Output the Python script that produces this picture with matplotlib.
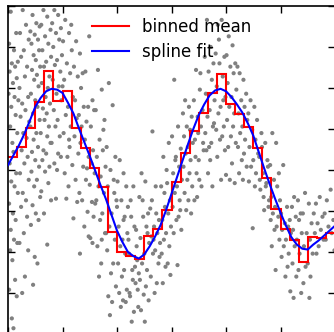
import numpy as np
import matplotlib
matplotlib.use('Agg')
import matplotlib.pyplot as plt
from matplotlib.lines import Line2D
from matplotlib.ticker import MultipleLocator

# noisy samples (strip by strip)
scatter_x = [
    0.05, 0.15, 0.02, 0.11, 0.18, 0.07, 0.13, 0.03, 0.16, 0.09, 0.01, 0.12, 0.19, 0.06, 0.14, 0.04, 0.17, 0.08, 0.10,
    0.03, 0.15, 0.06, 0.12, 0.18, 0.02, 0.09, 0.14, 0.05, 0.11, 0.17, 0.04, 0.08, 0.13, 0.02, 0.16, 0.07, 0.10,
    0.27, 0.33, 0.22, 0.38, 0.29, 0.24, 0.35, 0.31, 0.21, 0.37, 0.26, 0.32, 0.23, 0.39, 0.28, 0.34, 0.25, 0.36, 0.30,
    0.22, 0.38, 0.27, 0.33, 0.24, 0.35, 0.29, 0.21, 0.37, 0.31, 0.26,
    0.45, 0.52, 0.58, 0.41, 0.49, 0.55, 0.43, 0.57, 0.47, 0.51, 0.59, 0.44, 0.53, 0.48, 0.56, 0.42, 0.50, 0.54, 0.46,
    0.58, 0.41, 0.52, 0.47, 0.55, 0.44, 0.50, 0.57, 0.43, 0.53, 0.48, 0.59, 0.45, 0.51, 0.56, 0.42, 0.49, 0.54, 0.46,
    0.65, 0.72, 0.61, 0.78, 0.68, 0.74, 0.63, 0.79, 0.70, 0.66, 0.76, 0.62, 0.73, 0.69, 0.77, 0.64, 0.71, 0.67, 0.75,
    0.60, 0.72, 0.78, 0.65, 0.70, 0.63, 0.76, 0.68, 0.74, 0.61, 0.79, 0.66, 0.72,
    0.85, 0.92, 0.81, 0.97, 0.88, 0.94, 0.83, 0.99, 0.90, 0.86, 0.96, 0.82, 0.93, 0.89, 0.98, 0.84, 0.91, 0.87, 0.95,
    0.80, 0.92, 0.97, 0.85, 0.90, 0.88,
    1.05, 1.12, 1.01, 1.17, 1.08, 1.14, 1.03, 1.19, 1.10, 1.06, 1.15, 1.02, 1.13, 1.09, 1.18, 1.04, 1.11, 1.07, 1.16,
    1.00, 1.12,
    1.25, 1.32, 1.21, 1.37, 1.28, 1.34, 1.23, 1.39, 1.30, 1.26, 1.35, 1.22, 1.33, 1.29, 1.38, 1.24, 1.31, 1.27, 1.36,
    1.20, 1.32,
    1.49, 1.42, 1.55, 1.47, 1.58, 1.44, 1.52, 1.41, 1.56, 1.48, 1.53, 1.45, 1.59, 1.43, 1.50, 1.54, 1.46, 1.57, 1.40,
    1.51, 1.48, 1.55,
    1.65, 1.72, 1.61, 1.77, 1.68, 1.74, 1.63, 1.79, 1.70, 1.66, 1.76, 1.62, 1.73, 1.69, 1.78, 1.64, 1.71, 1.67, 1.75,
    1.60, 1.72,
    1.85, 1.92, 1.81, 1.97, 1.88, 1.94, 1.83, 1.99, 1.90, 1.86, 1.96, 1.82, 1.93, 1.89, 1.98, 1.84, 1.91, 1.87, 1.95,
    1.80,
    2.05, 2.12, 2.01, 2.17, 2.08, 2.14, 2.03, 2.19, 2.10, 2.06, 2.15, 2.02, 2.13, 2.09, 2.18, 2.04, 2.11, 2.07, 2.16,
    2.00, 2.12,
    2.25, 2.32, 2.21, 2.37, 2.28, 2.34, 2.23, 2.39, 2.30, 2.26, 2.35, 2.22, 2.33, 2.29, 2.38, 2.24, 2.31, 2.27, 2.36,
    2.20,
    2.45, 2.52, 2.41, 2.57, 2.48, 2.54, 2.43, 2.59, 2.50, 2.46, 2.55, 2.42, 2.53, 2.49, 2.58, 2.44, 2.51, 2.47, 2.56,
    2.40,
    2.65, 2.72, 2.61, 2.77, 2.68, 2.74, 2.63, 2.79, 2.70, 2.66, 2.76, 2.62, 2.73, 2.69, 2.78, 2.64, 2.71, 2.67,
    2.85, 2.92, 2.81, 2.97, 2.88, 2.94, 2.83, 2.99, 2.90, 2.86, 2.96, 2.82, 2.93, 2.89, 2.98, 2.84, 2.91, 2.87, 2.95,
    3.05, 3.12, 3.01, 3.17, 3.08, 3.14, 3.03, 3.19, 3.10, 3.06, 3.15, 3.02, 3.13, 3.09, 3.18, 3.04, 3.11, 3.07, 3.16,
    3.25, 3.32, 3.21, 3.37, 3.28, 3.34, 3.23, 3.39, 3.30, 3.26, 3.35, 3.22, 3.33, 3.29, 3.38, 3.24, 3.31, 3.27, 3.36,
    3.45, 3.52, 3.41, 3.57, 3.48, 3.54, 3.43, 3.59, 3.50, 3.46, 3.55, 3.42, 3.53, 3.49, 3.58, 3.44, 3.51, 3.47,
    3.65, 3.72, 3.61, 3.77, 3.68, 3.74, 3.63, 3.79, 3.70, 3.66, 3.76, 3.62, 3.73, 3.69, 3.78, 3.64, 3.71, 3.67, 3.75,
    3.85, 3.92, 3.81, 3.97, 3.88, 3.94, 3.83, 3.99, 3.90, 3.86, 3.96, 3.82, 3.93, 3.89, 3.98, 3.84, 3.91, 3.87, 3.95,
    4.05, 4.12, 4.01, 4.17, 4.08, 4.14, 4.03, 4.19, 4.10, 4.06, 4.15, 4.02, 4.13, 4.09, 4.18, 4.04, 4.11, 4.07, 4.16,
    4.00,
    4.25, 4.32, 4.21, 4.37, 4.28, 4.34, 4.23, 4.39, 4.30, 4.26, 4.35, 4.22, 4.33, 4.29, 4.38, 4.24, 4.31,
    4.45, 4.52, 4.41, 4.57, 4.48, 4.54, 4.43, 4.59, 4.50, 4.46, 4.55, 4.42, 4.53, 4.49,
    4.65, 4.72, 4.61, 4.77, 4.68, 4.74, 4.63, 4.79, 4.70, 4.66, 4.76, 4.62, 4.73, 4.69, 4.78,
    4.85, 4.92, 4.81, 4.97, 4.88, 4.94, 4.83, 4.99, 4.90, 4.86, 4.96, 4.82, 4.93, 4.89, 4.98, 4.84, 4.91,
    5.05, 5.12, 5.01, 5.17, 5.08, 5.14, 5.03, 5.19, 5.10, 5.06, 5.15, 5.02, 5.13, 5.09, 5.18,
    5.25, 5.32, 5.21, 5.37, 5.28, 5.34, 5.23, 5.39, 5.30, 5.26, 5.35, 5.22, 5.33, 5.29, 5.38, 5.24,
    5.45, 5.52, 5.41, 5.57, 5.48, 5.54, 5.43, 5.59, 5.50, 5.46, 5.55, 5.42, 5.53,
    5.65, 5.72, 5.61, 5.77, 5.68, 5.74, 5.63, 5.79, 5.70, 5.66,
    5.85, 5.92, 5.81, 5.97, 5.88, 5.94, 5.83, 5.99,
]
scatter_y = [
    1.93, 1.67, 1.54, 1.46, 1.32, 1.30, 1.26, 1.20, 1.12, 1.06, 0.93, 0.89, 0.85, 0.77, 0.67, 0.53, 0.45, 0.33, 0.22,
    0.08, -0.04, -0.14, -0.20, -0.28, -0.41, -0.53, -0.61, -0.73, -0.85, -0.89, -0.98, -1.10, -1.34, -1.46, -1.54, -1.81, -1.93,
    1.95, 1.77, 1.67, 1.59, 1.46, 1.38, 1.26, 1.14, 1.00, 0.89, 0.81, 0.73, 0.65, 0.59, 0.45, 0.39, 0.24, 0.16, 0.08,
    -0.04, -0.12, -0.28, -0.37, -0.45, -0.57, -0.77, -0.89, -0.98, -1.30, -1.50,
    1.89, 1.79, 1.75, 1.69, 1.65, 1.59, 1.54, 1.46, 1.40, 1.34, 1.26, 1.22, 1.16, 1.10, 1.02, 0.93, 0.85, 0.77, 0.69,
    0.61, 0.53, 0.45, 0.37, 0.28, 0.22, 0.12, 0.04, -0.02, -0.12, -0.20, -0.33, -0.43, -0.53, -0.61, -0.67, -1.06, -1.14, -1.40,
    1.95, 1.87, 1.77, 1.71, 1.63, 1.54, 1.46, 1.38, 1.32, 1.26, 1.14, 1.06, 1.00, 0.89, 0.81, 0.75, 0.69, 0.61, 0.53,
    0.45, 0.41, 0.33, 0.24, 0.20, 0.12, 0.04, -0.02, -0.16, -0.26, -0.37, -0.53, -0.91,
    1.95, 1.89, 1.79, 1.73, 1.67, 1.59, 1.50, 1.40, 1.34, 1.28, 1.20, 1.10, 1.02, 0.93, 0.85, 0.73, 0.61, 0.53, 0.41,
    0.33, 0.20, 0.16, 0.08, 0.00, -0.35,
    1.83, 1.67, 1.57, 1.46, 1.30, 1.18, 1.10, 0.89, 0.77, 0.67, 0.53, 0.45, 0.28, 0.16, 0.06, -0.04, -0.20, -0.35, 1.77,
    1.02, 0.37,
    1.57, 1.42, 1.26, 1.18, 1.14, 1.00, 0.85, 0.77, 0.67, 0.63, 0.53, 0.41, 0.33, 0.20, 0.04, -0.12, -0.28, -0.39, -0.37,
    -0.59, -1.02,
    1.63, 1.20, 0.85, 0.77, 0.73, 0.59, 0.53, 0.37, 0.24, 0.16, 0.08, 0.02, -0.04, -0.12, -0.18, -0.39, -0.51, -0.57, -0.69,
    -0.83, -0.81, -0.89,
    1.22, 0.98, 0.73, 0.61, 0.37, 0.24, 0.16, 0.04, -0.08, -0.20, -0.28, -0.37, -0.53, -0.61, -0.77, -0.93, -1.14, -1.30, 0.49,
    -0.41, -0.85,
    1.06, 0.79, 0.28, 0.16, 0.00, -0.12, -0.20, -0.37, -0.53, -0.69, -0.85, -0.98, -1.14, -1.26, -1.42, -1.54, -1.61, -1.77, -0.28,
    -0.77,
    0.12, -0.04, -0.14, -0.20, -0.37, -0.57, -0.69, -0.77, -0.85, -0.93, -1.02, -1.14, -1.22, -1.30, -1.46, -1.50, -1.59, -1.67, -1.61,
    -0.45, -0.61,
    -0.37, -0.69, -0.85, -1.10, -1.22, -1.38, -1.50, -1.67, -0.20, -0.57, -0.73, -1.02, -1.18, -1.34, -1.46, -1.54, -1.73, -1.85, -0.93,
    -0.45,
    -0.04, -0.14, -0.33, -0.53, -0.57, -0.69, -0.83, -0.89, -1.02, -1.14, -1.22, -1.34, -1.42, -1.52, -1.59, -1.71, -1.85, -0.37, -0.77,
    -1.26,
    0.47, -0.53, -0.47, -0.61, -0.69, -0.77, -0.81, -0.89, -0.98, -1.02, -1.14, -1.30, -1.38, -1.50, -1.06, -0.37, -0.20, -0.85,
    0.16, -0.16, -0.20, -0.37, -0.45, -0.53, -0.61, -0.69, -0.77, -0.85, -0.93, -1.02, -1.14, -1.18, -1.28, -1.38, 0.00, -0.28, 0.33,
    1.10, 0.53, 0.41, 0.26, 0.16, 0.04, -0.04, -0.12, -0.20, -0.28, -0.37, -0.45, -0.57, -0.61, -0.73, -0.77, -1.16, 0.12, -0.49,
    0.85, 0.77, 0.69, 0.65, 0.53, 0.49, 0.41, 0.33, 0.28, 0.20, 0.12, 0.04, -0.04, -0.12, -0.20, -0.28, -0.37, -0.49, -0.53,
    1.22, 0.98, 0.85, 0.73, 0.65, 0.53, 0.37, 0.24, 0.12, -0.04, -0.20, -0.37, 1.18, 0.45, 0.33, 0.16, -0.12, -0.33,
    1.83, 1.50, 1.38, 1.30, 1.20, 1.10, 0.93, 0.85, 0.73, 0.65, 0.53, 0.45, 0.33, 0.28, 0.57, 0.24, 0.12, -0.04, -0.20,
    1.77, 1.83, 1.42, 1.38, 1.30, 1.14, 1.02, 0.89, 0.77, 0.69, 0.53, 0.49, 0.41, 0.37, 0.24, 0.16, -0.12, 1.59, 0.85,
    1.63, 1.52, 1.40, 1.30, 1.26, 1.18, 1.06, 0.98, 0.89, 0.77, 0.69, 0.61, 0.53, 0.41, 0.33, 0.28, 0.08, -0.12, -0.16,
    -0.06,
    1.18, 1.10, 1.26, 0.93, 0.85, 0.77, 0.69, 0.61, 0.53, 0.45, 0.37, 0.28, 0.20, 0.12, 0.04, -0.04, -0.12,
    0.85, 0.77, 0.69, 0.61, 0.49, 0.37, 0.28, 0.20, 0.12, 0.04, -0.04, -0.14, -0.20, -0.71,
    0.45, 0.33, 0.16, 0.04, -0.04, -0.16, -0.24, -0.37, -0.49, 0.28, 0.12, -0.12, -0.20, -0.33, -0.45,
    0.45, 0.33, 0.06, -0.04, -0.12, -0.20, -0.33, -0.37, -0.45, -0.53, -0.57, -0.61, -0.69, -0.73, -0.85, -0.93, -1.22,
    0.06, -0.45, -0.53, -0.61, -0.65, -0.69, -0.73, -0.77, -0.85, -0.93, -1.02, -1.06, -1.18, -1.30, -1.48,
    -0.33, -0.37, -0.45, -0.53, -0.57, -0.61, -0.73, -0.77, -0.85, -0.93, -1.02, -1.14, -1.22, -1.30, -1.50, -1.56,
    -0.28, -0.41, -0.53, -0.65, -0.77, -0.85, -0.93, -1.02, -1.14, -1.18, -1.30, -1.38, -1.56,
    -0.41, -0.33, -0.53, -0.57, -0.65, -0.73, -0.77, -0.85, -0.93, -1.02,
    -0.37, -0.24, -0.53, -0.61, -0.69, -0.77, -0.85, -0.98,
]

# mean of y in 36 equal bins over [0, 6]
bin_means = [0.16, 0.28, 0.51, 0.83, 1.21, 0.84, 0.96, 0.51, 0.27, 0.02,
             -0.21, -0.76, -1.00, -1.05, -1.09, -0.80, -0.72, -0.49, -0.15, 0.21,
             0.48, 0.70, 0.94, 1.17, 0.80, 0.68, 0.52, 0.27, -0.10, -0.48,
             -0.72, -0.85, -1.12, -0.82, -0.83, -0.77]

spline_x = [0.0, 0.1, 0.2, 0.3, 0.4, 0.5, 0.6, 0.7, 0.8, 0.9,
            1.0, 1.1, 1.2, 1.3, 1.4, 1.5, 1.6, 1.7, 1.8, 1.9,
            2.0, 2.1, 2.2, 2.3, 2.4, 2.5, 2.6, 2.7, 2.8, 2.9,
            3.0, 3.1, 3.2, 3.3, 3.4, 3.5, 3.6, 3.7, 3.8, 3.9,
            4.0, 4.1, 4.2, 4.3, 4.4, 4.5, 4.6, 4.7, 4.8, 4.9,
            5.0, 5.1, 5.2, 5.3, 5.4, 5.5, 5.6, 5.7, 5.8, 5.9, 6.0]
spline_y = [0.06, 0.18, 0.30, 0.44, 0.60, 0.77, 0.88, 0.96, 0.99, 0.98,
            0.94, 0.82, 0.69, 0.51, 0.34, 0.17, -0.01, -0.19, -0.36, -0.55,
            -0.74, -0.88, -1.00, -1.05, -1.08, -1.03, -0.93, -0.81, -0.67, -0.49,
            -0.29, -0.09, 0.11, 0.31, 0.50, 0.67, 0.80, 0.91, 0.97, 0.99,
            0.96, 0.89, 0.80, 0.70, 0.57, 0.42, 0.22, 0.02, -0.17, -0.35,
            -0.52, -0.68, -0.82, -0.91, -0.96, -0.97, -0.91, -0.86, -0.80, -0.74,
            -0.68]

fig = plt.figure(figsize=(3.34, 3.32), dpi=100)
# the picture is a tight crop: bottom/right spines and tick labels fall outside
ax = fig.add_axes([0.024, -0.006, 0.979, 0.988])

ax.scatter(scatter_x, scatter_y, s=9, color='0.5', edgecolors='none', zorder=1)

edges = np.linspace(0, 6, len(bin_means) + 1)
ax.stairs(bin_means, edges, baseline=None, color='red', lw=1.5, zorder=2)
ax.plot(spline_x, spline_y, color='blue', lw=1.5, zorder=3)

ax.set_xlim(0, 6)
ax.set_ylim(-2, 2)
ax.xaxis.set_major_locator(MultipleLocator(1))
ax.yaxis.set_major_locator(MultipleLocator(0.5))
ax.tick_params(direction='in', length=5, width=1, top=True, right=True,
               labelleft=False, labelbottom=False)
for sp in ax.spines.values():
    sp.set_linewidth(1.2)

handles = [Line2D([], [], color='red', lw=1.5), Line2D([], [], color='blue', lw=1.5)]
ax.legend(handles, ['binned mean', 'spline fit'], loc='upper center',
          frameon=False, fontsize=12, labelspacing=0.45, handlelength=2.2,
          borderaxespad=0.3)

fig.savefig('out.png', dpi=100)
